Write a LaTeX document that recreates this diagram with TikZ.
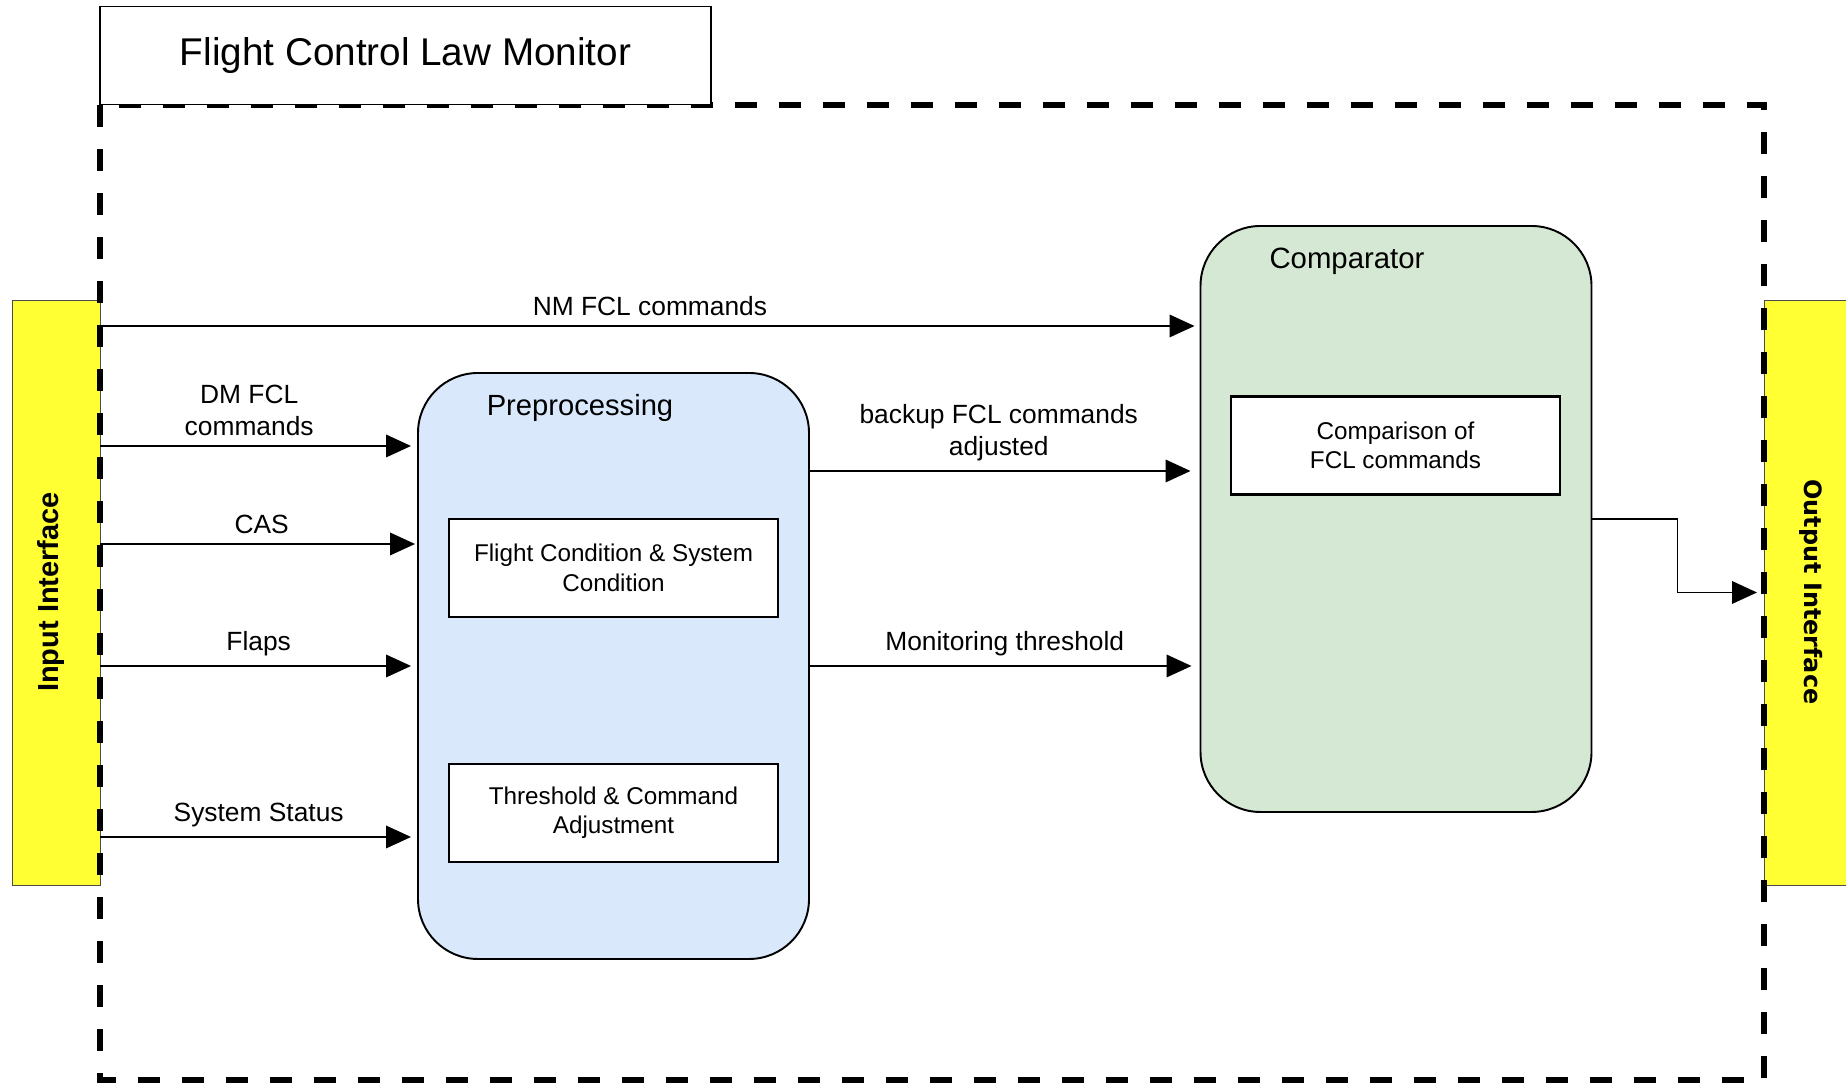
\documentclass[tikz,border=0pt]{standalone}
\usepackage{fontspec}
\setmainfont{Liberation Sans}
\newfontfamily\outfont{DejaVu Sans}
\usetikzlibrary{arrows.meta}
\definecolor{ifyellow}{RGB}{255,255,51}
\definecolor{preblue}{RGB}{218,232,252}
\definecolor{cmpgreen}{RGB}{213,232,212}

\begin{document}
\begin{tikzpicture}[
    flow/.style={draw,line width=1.1pt,-{Triangle[length=0.5cm,width=0.45cm]}},
    lbl/.style={font=\fontsize{15}{18}\selectfont,align=center,above=2pt},
    block/.style={draw,line width=1.1pt,rounded corners=1.2cm,minimum width=7.82cm,minimum height=11.72cm},
    inner/.style={draw,line width=1.4pt,fill=white,minimum width=6.58cm,minimum height=1.96cm,align=center,font=\fontsize{13.8}{16.7}\selectfont}
  ]
  \useasboundingbox (0,0) rectangle (36.92,21.66);

  % interfaces
  \node[draw=black!70,fill=ifyellow,minimum width=1.76cm,minimum height=11.7cm] (In) at (1.12,9.81) {};
  \node[rotate=90,font=\bfseries\fontsize{16.5}{20}\selectfont] (InT) at (1.02,9.82) {Input Interface};
  \node[draw=black!70,fill=ifyellow,anchor=west,minimum width=2cm,minimum height=11.7cm] (Out) at (35.28,9.81) {};
  \node[rotate=-90,font=\outfont\bfseries\fontsize{13.6}{16}\selectfont] (OutT) at (36.22,9.82) {Output Interface};

  % monitor frame
  \draw[line width=0.12cm,dash pattern=on 0.44cm off 0.44cm] (2,19.55) rectangle (35.28,0.06);
  \node[draw,line width=1.1pt,fill=white,minimum width=12.22cm,minimum height=1.96cm,font=\fontsize{22}{26}\selectfont] (T) at (8.11,20.55) {Flight Control Law Monitor};

  % blocks
  \node[block,fill=preblue] (Pre) at (12.27,8.34) {};
  \node[font=\fontsize{16.6}{20}\selectfont] (PreT) at (11.6,13.5) {Preprocessing};
  \node[inner] (FC) at (12.27,10.30) {Flight Condition \& System\\Condition};
  \node[inner] (TC) at (12.27,5.40) {Threshold \& Command\\Adjustment};

  \node[block,fill=cmpgreen] (Cmp) at (27.92,11.28) {};
  \node[font=\fontsize{16.7}{20}\selectfont] (CmpT) at (26.94,16.44) {Comparator};
  \node[inner] (CF) at (27.91,12.75) {Comparison of\\FCL commands};

  % signals
  \draw[flow,shorten >=0.1cm] (In.east |- 0,15.14) -- node[lbl] {NM FCL commands} (Cmp.west |- 0,15.14);
  \draw[flow,shorten >=0.12cm] (In.east |- 0,12.74) -- node[lbl,xshift=-0.19cm] {DM FCL\\commands} (Pre.west |- 0,12.74);
  \draw[flow,shorten >=0.04cm] (In.east |- 0,10.78) -- node[lbl,xshift=0.06cm] {CAS} (Pre.west |- 0,10.78);
  \draw[flow,shorten >=0.12cm] (In.east |- Pre.west) -- node[lbl] {Flaps} (Pre.west);
  \draw[flow,shorten >=0.12cm] (In.east |- 0,4.92) -- node[lbl] {System Status} (Pre.west |- 0,4.92);

  \draw[flow,shorten >=0.18cm] (Pre.east |- 0,12.24) -- node[lbl,xshift=-0.12cm] {backup FCL commands\\adjusted} (Cmp.west |- 0,12.24);
  \draw[flow,shorten >=0.16cm] (Pre.east) -- node[lbl] {Monitoring threshold} (Cmp.west |- Pre.east);

  \draw[flow,shorten >=0.14cm] (Cmp.east) -- ++(1.7,0) |- (Out.west);
\end{tikzpicture}
\end{document}
